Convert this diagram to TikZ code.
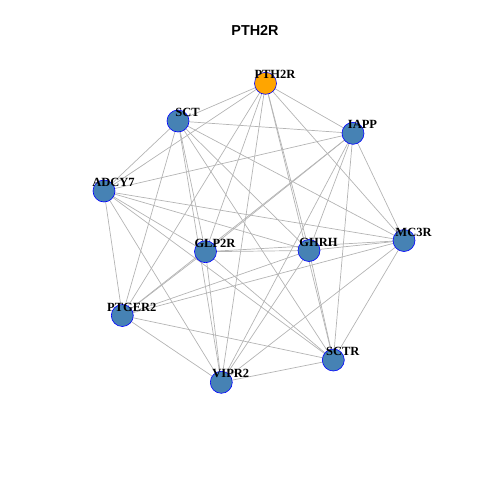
\documentclass[tikz,border=0pt]{standalone}
\usepackage{fontspec}
\setmainfont{Liberation Serif}
\newfontfamily\titlefont{Liberation Sans}
\usetikzlibrary{backgrounds}
\definecolor{steel}{RGB}{70,130,180}
\definecolor{hub}{RGB}{255,165,0}
\definecolor{edgegray}{RGB}{180,180,180}
\tikzset{gene/.style={draw=blue,fill=steel,circle,minimum size=22pt,inner sep=0pt,line width=0.6pt,
  label={[name=\tikzlastnode-l,xshift=9.5pt,yshift=8.5pt,font=\fontsize{12.5}{12.5}\selectfont\bfseries]center:#1}}}

\begin{document}
\begin{tikzpicture}[x=1pt,y=-1pt,
every edge/.style = {draw=edgegray, line width=0.7pt}]
\useasboundingbox (0,0) rectangle (480,480);
\node [font=\titlefont\fontsize{14.4}{14.4}\selectfont\bfseries] (title) at (255,30) {PTH2R};
\node [gene=PTH2R,fill=hub] (pth2r) at (265.5,83.3) {};
\node [gene=SCT] (sct) at (178,121) {};
\node [gene=IAPP] (iapp) at (353,133.3) {};
\node [gene=ADCY7] (adcy7) at (104,191) {};
\node [gene=MC3R] (mc3r) at (404,240.5) {};
\node [gene=GLP2R] (glp2r) at (205.5,251.7) {};
\node [gene=GHRH] (ghrh) at (309,250.5) {};
\node [gene=PTGER2] (ptger2) at (122.3,315.5) {};
\node [gene=SCTR] (sctr) at (333.3,360) {};
\node [gene=VIPR2] (vipr2) at (221.3,382.3) {};
% every pair of genes is linked
\begin{scope}[on background layer]
\foreach \a [count=\i] in {pth2r,sct,iapp,adcy7,mc3r,glp2r,ghrh,ptger2,sctr,vipr2}{
  \foreach \b [count=\j] in {pth2r,sct,iapp,adcy7,mc3r,glp2r,ghrh,ptger2,sctr,vipr2}{
    \ifnum\j>\i \path (\a.center) edge (\b.center); \fi
  }
}
\end{scope}
\end{tikzpicture}
\end{document}
